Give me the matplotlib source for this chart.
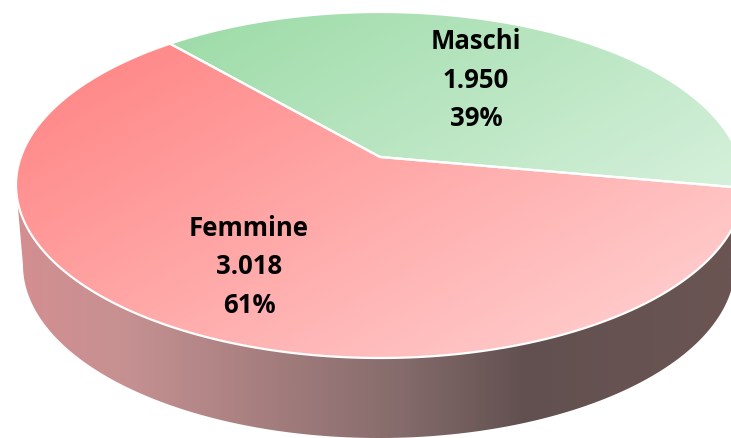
import numpy as np
import matplotlib
matplotlib.use('Agg')
import matplotlib.pyplot as plt
from matplotlib.colors import LinearSegmentedColormap
from matplotlib.patches import Polygon

# data
categories = ['Maschi', 'Femmine']
values = [1950, 3018]

# pie geometry in pixels
cx, cy = 380, 185
rx, ry = 364, 173
depth = 80
rx_low = 356
start_angle = -10.3
persp = 0.162   # how far the pie centre is pushed back by the perspective

W, H = 731, 438
fig = plt.figure(figsize=(W / 100, H / 100), dpi=100)
ax = fig.add_axes([0, 0, 1, 1])
ax.set_xlim(0, W)
ax.set_ylim(H, 0)
ax.axis('off')


def project(deg):
    # angle on the real circle -> point on the drawn ellipse
    t = np.radians(deg)
    x, y = np.cos(t), np.sin(t)
    d = 1 + persp * y
    return cx + rx * x * np.sqrt(1 - persp ** 2) / d, cy - ry * (y + persp) / d


def gradient(colors, clip, direction=(0.5, 0.87)):
    xx, yy = np.meshgrid(np.arange(W + 1), np.arange(H + 1))
    t = xx * direction[0] + yy * direction[1]
    t = (t - t.min()) / (t.max() - t.min())
    cmap = LinearSegmentedColormap.from_list('g', colors)
    im = ax.imshow(t, cmap=cmap, extent=(0, W, H, 0), aspect='auto', zorder=clip.get_zorder(),
                   vmin=0, vmax=1, interpolation='bilinear')
    im.set_clip_path(clip)


# side of the cake
a = np.radians(np.linspace(180, 360, 200))
upper = np.c_[cx + rx * np.cos(a), cy - ry * np.sin(a)]
lower = np.c_[cx - 1 + rx_low * np.cos(a), cy + depth - ry * np.sin(a)]
side = Polygon(np.r_[upper, lower[::-1]], closed=True, fc='none', ec='none', zorder=1)
ax.add_patch(side)
xx = np.arange(W + 1) / W
side_cmap = LinearSegmentedColormap.from_list('side', [
    (0.0, '#d68e90'), (0.17, '#c69192'), (0.35, '#a87f80'), (0.55, '#856b6b'),
    (0.72, '#625050'), (1.0, '#6a5553')])
im = ax.imshow(xx[None, :], cmap=side_cmap, extent=(0, W, H, 0), aspect='auto', zorder=1,
               vmin=0, vmax=1)
im.set_clip_path(side)

# top slices, angles come from the values
colors = {'Maschi': ['#8fd69b', '#f2fbf5'], 'Femmine': ['#ff7b7b', '#ffdede']}
total = sum(values)
angle = start_angle
apex = (cx, cy - ry * persp)
for name, v in zip(categories, values):
    sweep = 360 * v / total
    deg = np.linspace(angle, angle + sweep, 300)
    px, py = project(deg)
    pts = np.r_[[apex], np.c_[px, py]]
    wedge = Polygon(pts, closed=True, fc='none', ec='none', zorder=2)
    ax.add_patch(wedge)
    gradient(colors[name], wedge)
    outline = Polygon(pts, closed=True, fc='none', ec='white', lw=1.6, zorder=3)
    ax.add_patch(outline)
    angle += sweep

# labels
label_pos = {'Maschi': (476, 80), 'Femmine': (249, 267)}
for name, v in zip(categories, values):
    txt = '%s\n%s\n%d%%' % (name, format(v, ',').replace(',', '.'), round(100 * v / total))
    ax.text(label_pos[name][0], label_pos[name][1], txt, ha='center', va='center',
            fontsize=18.5, family='Open Sans', fontweight='bold', color='black',
            linespacing=1.54, zorder=5)

ax.set_xlim(0, W)
ax.set_ylim(H, 0)
fig.savefig('out.png', dpi=100)
